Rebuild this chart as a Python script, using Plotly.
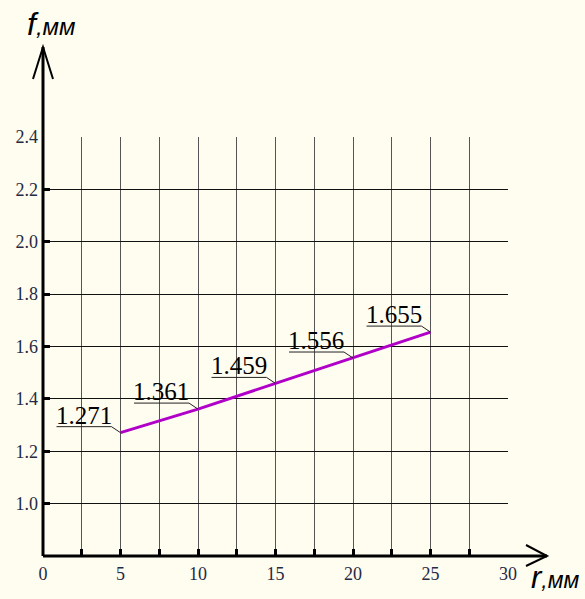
import plotly.graph_objects as go

r_vals = [5, 10, 15, 20, 25]
f_vals = [1.271, 1.361, 1.459, 1.556, 1.655]
f_labels = ["1.271", "1.361", "1.459", "1.556", "1.655"]
x_ticks = [0, 5, 10, 15, 20, 25, 30]
y_ticks = [1.0, 1.2, 1.4, 1.6, 1.8, 2.0, 2.2, 2.4]
y_tick_text = ["1.0", "1.2", "1.4", "1.6", "1.8", "2.0", "2.2", "2.4"]

W, H = 585, 599
L, R, T, B = 43, 77, 137, 43
pw = W - L - R
ph = H - T - B

def px_x(p):
    return (p - L) / pw

def px_y(p):
    return (H - B - p) / ph

SERIF = "Liberation Serif, Times New Roman, serif"
BG = "#fffcf0"
fig = go.Figure()
fig.add_trace(go.Scatter(x=r_vals, y=f_vals, mode="lines",
                         line=dict(color="#b000c8", width=3), hoverinfo="skip"))

tickfont = dict(family=SERIF, size=18, color="#1f2a44")
fig.update_layout(
    width=W, height=H,
    margin=dict(l=L, r=R, t=T, b=B, autoexpand=False),
    paper_bgcolor=BG, plot_bgcolor=BG,
    font=dict(family=SERIF),
    showlegend=False,
    xaxis=dict(range=[0, 30], tickvals=x_ticks, ticktext=[str(v) for v in x_ticks],
               showgrid=True, gridcolor="#555555", gridwidth=1,
               minor=dict(dtick=2.5, showgrid=True, gridcolor="#555555", gridwidth=1,
                          ticks="inside", ticklen=7, tickwidth=3, tickcolor="black"),
               ticks="inside", ticklen=7, tickwidth=3, tickcolor="black",
               tickfont=tickfont, ticklabelstandoff=5, automargin=False,
               zeroline=False, showline=False, fixedrange=True),
    yaxis=dict(range=[0.8, 2.4], tickvals=y_ticks, ticktext=y_tick_text,
               showgrid=True, gridcolor="#111111", gridwidth=1,
               ticks="inside", ticklen=7, tickwidth=3, tickcolor="black",
               tickfont=tickfont, ticklabelstandoff=4, automargin=False,
               zeroline=False, showline=False, fixedrange=True),
)

# axes with arrows
ax_line = dict(color="black", width=3)
fig.add_shape(type="line", xref="paper", yref="paper", x0=0, y0=0, x1=0, y1=px_y(47), line=ax_line)
fig.add_shape(type="line", xref="paper", yref="paper", x0=0, y0=0, x1=px_x(547), y1=0, line=ax_line)
arrow = dict(color="black", width=2)
fig.add_shape(type="path", xref="paper", yref="paper",
              path=f"M{px_x(33)},{px_y(79)} L{px_x(43)},{px_y(47)} L{px_x(53)},{px_y(79)}",
              line=arrow)
fig.add_shape(type="path", xref="paper", yref="paper",
              path=f"M{px_x(526)},{px_y(545)} L{px_x(547)},{px_y(556)} L{px_x(526)},{px_y(566)}",
              line=arrow)

# value labels with underline leaders
for xv, yv, lab in zip(r_vals, f_vals, f_labels):
    fig.add_shape(type="path", xref="x", yref="y",
                  xsizemode="pixel", ysizemode="pixel", xanchor=xv, yanchor=yv,
                  path="M-64,6 L-9,6 L0,0", line=dict(color="#222222", width=1))
    fig.add_annotation(x=xv, y=yv, xref="x", yref="y", text=lab, showarrow=False,
                       xanchor="right", yanchor="bottom", xshift=-7, yshift=2,
                       font=dict(family=SERIF, size=25, color="black"))

# axis titles
fig.add_annotation(xref="paper", yref="paper", x=px_x(25), y=px_y(44), xanchor="left", yanchor="bottom",
                   text="<i>f</i><i style='font-size:24px'>,мм</i>", showarrow=False,
                   font=dict(family="Liberation Sans", size=32, color="black"))
fig.add_annotation(xref="paper", yref="paper", x=px_x(529), y=px_y(597), xanchor="left", yanchor="bottom",
                   text="<i>r</i><i style='font-size:23px'>,мм</i>", showarrow=False,
                   font=dict(family="Liberation Sans", size=31, color="black"))

fig.write_html("out.html", config={"displayModeBar": False},
               post_script="document.body.style.margin='0';document.body.style.overflow='hidden';")
